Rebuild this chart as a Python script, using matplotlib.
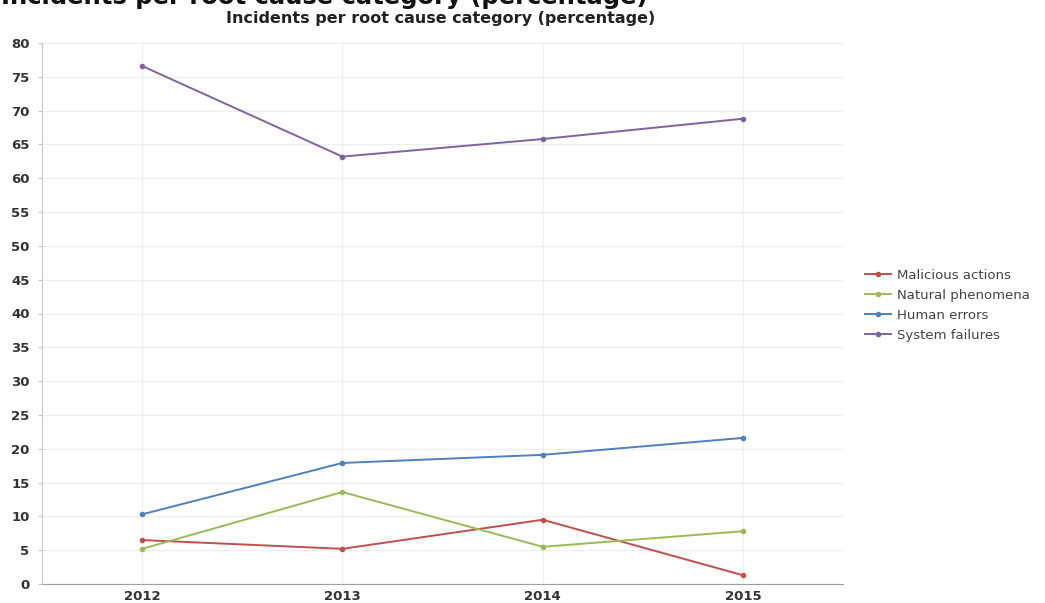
import matplotlib
matplotlib.use("Agg")
import matplotlib.pyplot as plt

years = ["2012", "2013", "2014", "2015"]
malicious = [6.5, 5.2, 9.5, 1.3]
natural = [5.2, 13.6, 5.5, 7.8]
human = [10.3, 17.9, 19.1, 21.6]
system = [76.6, 63.2, 65.8, 68.8]
series_names = ["Malicious actions", "Natural phenomena", "Human errors", "System failures"]
series_values = [malicious, natural, human, system]
colors = ["#C0504D", "#9BBB59", "#4F81BD", "#8064A2"]
yticks = list(range(0, 81, 5))
title = "Incidents per root cause category (percentage)"

W, H = 1045, 603
fig = plt.figure(figsize=(W / 100, H / 100), dpi=100)
fig.patch.set_facecolor("white")

left, right, bottom, top = 42, 843, 584, 43
ax = fig.add_axes([left / W, 1 - bottom / H, (right - left) / W, (bottom - top) / H])

x = list(range(len(years)))
handles = []
for name, vals, c in zip(series_names, series_values, colors):
    h, = ax.plot(x, vals, color=c, lw=1.4, marker="o", markersize=4,
                 markeredgewidth=0, label=name, zorder=3)
    handles.append(h)

ax.set_xlim(-0.5, len(years) - 0.5)
ax.set_ylim(0, 80)
ax.set_xticks(x)
ax.set_xticklabels(years)
ax.set_yticks(yticks)
ax.set_yticklabels([str(v) for v in yticks])
ax.grid(True, color="#EFEFEF", lw=0.9, zorder=0)
ax.set_axisbelow(True)
for s in ["top", "right"]:
    ax.spines[s].set_visible(False)
ax.spines["left"].set_color("#C8C8C8")
ax.spines["bottom"].set_color("#A0A0A0")
ax.tick_params(axis="y", length=3, color="#C8C8C8", pad=6, labelsize=9.5, labelcolor="#333333")
ax.tick_params(axis="x", length=0, pad=4, labelsize=9.5, labelcolor="#333333")
for lab in ax.get_xticklabels() + ax.get_yticklabels():
    lab.set_fontweight("bold")

# subtitle
fig.text(441 / W, 1 - 19 / H, title, ha="center", va="center",
         fontsize=11.5, fontweight="bold", color="#222222")
# large clipped title at very top (cut off in the reference)
fig.text(648 / W, 1 - 4 / H, title, ha="right", va="baseline",
         fontsize=17.5, fontweight="bold", color="#111111")

fig.legend(handles=handles, labels=series_names, loc="upper left",
           bbox_to_anchor=(865 / W, 1 - 269 / H), bbox_transform=fig.transFigure,
           frameon=False, fontsize=9.5, handlelength=2.0, handletextpad=0.45,
           labelspacing=0.52, borderpad=0, borderaxespad=0, labelcolor="#444444")

fig.savefig("out.png", dpi=100)
